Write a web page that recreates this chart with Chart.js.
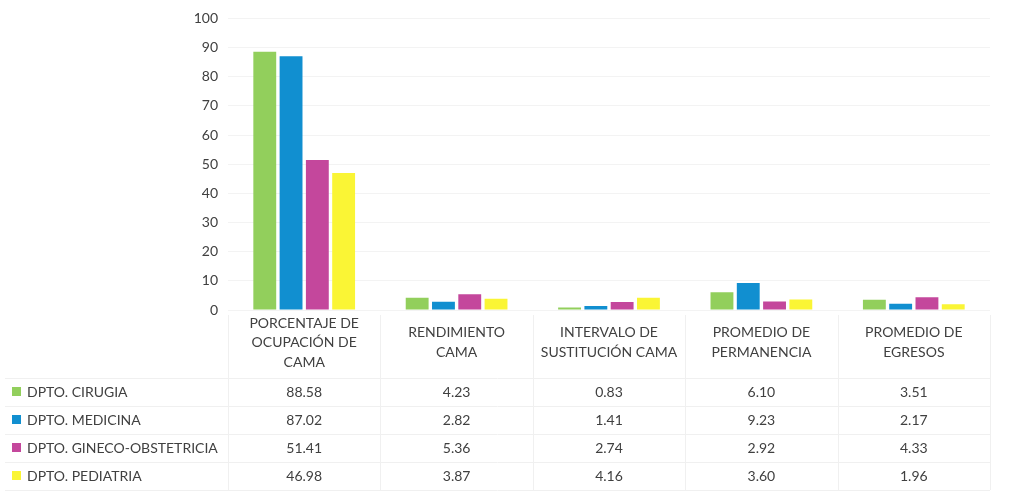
<!DOCTYPE html>
<html>
<head>
<meta charset="utf-8">
<script src="https://cdn.jsdelivr.net/npm/chart.js@4/dist/chart.umd.min.js"></script>
<style>
  html, body { margin: 0; background: #fff; }
</style>
</head>
<body>
<canvas id="myChart" width="1009" height="494"></canvas>
<script>
var categories = [
  ["PORCENTAJE DE", "OCUPACIÓN DE", "CAMA"],
  ["RENDIMIENTO", "CAMA"],
  ["INTERVALO DE", "SUSTITUCIÓN CAMA"],
  ["PROMEDIO DE", "PERMANENCIA"],
  ["PROMEDIO DE", "EGRESOS"]
];
var seriesNames = ["DPTO. CIRUGIA", "DPTO. MEDICINA", "DPTO. GINECO-OBSTETRICIA", "DPTO. PEDIATRIA"];
var cirugia = [88.58, 4.23, 0.83, 6.10, 3.51];
var medicina = [87.02, 2.82, 1.41, 9.23, 2.17];
var ginecoObstetricia = [51.41, 5.36, 2.74, 2.92, 4.33];
var pediatria = [46.98, 3.87, 4.16, 3.60, 1.96];
var yMin = 0, yMax = 100, yStep = 10;

var colors = ["#92cf5c", "#118fd0", "#c4479c", "#faf535"];
var textColor = "#404040";
var fontFamily = "Lato, 'Liberation Sans', sans-serif";

function getDatasets() {
  var values = [cirugia, medicina, ginecoObstetricia, pediatria];
  return seriesNames.map(function (name, i) {
    return {
      label: name,
      data: values[i],
      backgroundColor: colors[i],
      categoryPercentage: 0.69,
      barPercentage: 0.87
    };
  });
}

// data table under the x axis, columns follow the x scale
var dataTable = {
  id: "dataTable",
  afterDraw: function (chart) {
    var ctx = chart.ctx;
    var xs = chart.scales.x;
    var area = chart.chartArea;
    var rowTop = 378, rowH = 28;
    var step = (area.right - area.left) / categories.length;
    ctx.save();
    // faint grid
    ctx.strokeStyle = "#f0f0f0";
    ctx.lineWidth = 1;
    for (var r = 0; r <= chart.data.datasets.length; r++) {
      ctx.beginPath();
      ctx.moveTo(5, rowTop + r * rowH + 0.5);
      ctx.lineTo(area.right, rowTop + r * rowH + 0.5);
      ctx.stroke();
    }
    for (var c = 0; c <= categories.length; c++) {
      var vx = Math.round(area.left + c * step) + 0.5;
      ctx.beginPath();
      ctx.moveTo(vx, area.bottom + 5);
      ctx.lineTo(vx, rowTop + chart.data.datasets.length * rowH);
      ctx.stroke();
    }
    ctx.font = "14px " + fontFamily;
    ctx.textBaseline = "middle";
    chart.data.datasets.forEach(function (ds, i) {
      var y = rowTop + i * rowH + rowH / 2;
      ctx.fillStyle = ds.backgroundColor;
      ctx.fillRect(12, y - 5, 9, 9);
      ctx.fillStyle = textColor;
      ctx.textAlign = "left";
      ctx.fillText(ds.label, 27, y);
      ctx.textAlign = "center";
      ds.data.forEach(function (v, j) {
        ctx.fillText(v.toFixed(2), xs.getPixelForValue(j), y);
      });
    });
    ctx.restore();
  }
};

new Chart(document.getElementById("myChart"), {
  type: "bar",
  data: {
    labels: categories,
    datasets: getDatasets()
  },
  plugins: [dataTable],
  options: {
    responsive: false,
    animation: false,
    devicePixelRatio: 1,
    layout: { padding: { top: 17, left: 0, right: 19, bottom: 0 } },
    plugins: {
      legend: { display: false },
      tooltip: { enabled: false }
    },
    scales: {
      x: {
        grid: { display: false },
        border: { display: false },
        ticks: {
          color: textColor,
          font: { size: 14, family: fontFamily, lineHeight: 1.42 },
          crossAlign: "center",
          padding: 5,
          maxRotation: 0,
          autoSkip: false
        },
        afterFit: function (s) { s.height = 184; }
      },
      y: {
        min: yMin,
        max: yMax,
        ticks: {
          stepSize: yStep,
          color: textColor,
          font: { size: 14, family: fontFamily },
          padding: 10
        },
        grid: { color: "#f3f3f3", drawTicks: false },
        border: { display: false },
        afterFit: function (s) { s.width = 228; }
      }
    }
  }
});
</script>
</body>
</html>
